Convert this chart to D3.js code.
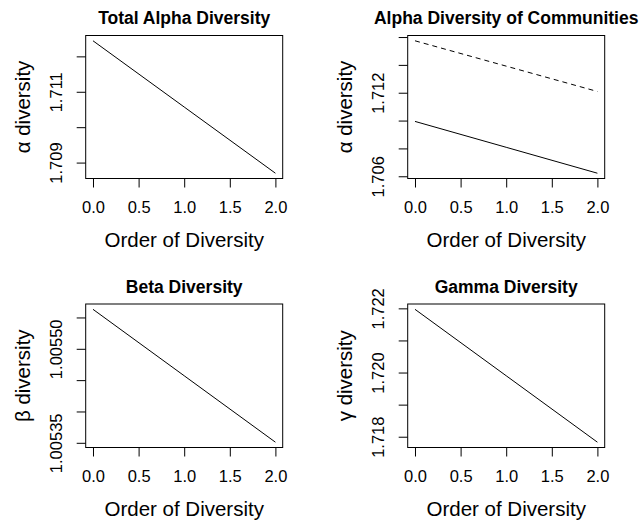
<!DOCTYPE html>
<html>
<head>
<meta charset="utf-8">
<script src="https://cdn.jsdelivr.net/npm/d3@7"></script>
<style>
  body { margin: 0; background: #fff; }
  svg { display: block; font-family: "Liberation Sans", Arial, Helvetica, sans-serif; }
</style>
</head>
<body>
<svg width="640" height="521"></svg>
<script>
// Order of diversity (q)
const orders = [0, 1, 2];

// series values
const totalAlpha = [1.71244, 1.71057, 1.70870];
const communityA = [1.71573, 1.71391, 1.71209]; // dashed
const communityB = [1.70994, 1.70808, 1.70622]; // solid
const betaDiv = [1.005563, 1.005457, 1.005351];
const gammaDiv = [1.72197, 1.71990, 1.71783];

// tick values and which of them get a label
const xTicks = [0, 0.5, 1, 1.5, 2];
const totalAlphaTicks = [1.709, 1.710, 1.711, 1.712];
const totalAlphaLabels = [1.709, 1.711];
const communityTicks = [1.706, 1.708, 1.710, 1.712, 1.714, 1.716];
const communityLabels = [1.706, 1.712];
const betaTicks = [1.00535, 1.00540, 1.00545, 1.00550, 1.00555];
const betaLabels = [1.00535, 1.00550];
const gammaTicks = [1.718, 1.719, 1.720, 1.721, 1.722];
const gammaLabels = [1.718, 1.720, 1.722];

const titles = ["Total Alpha Diversity", "Alpha Diversity of Communities", "Beta Diversity", "Gamma Diversity"];
const yTitles = ["\u03b1 diversity", "\u03b1 diversity", "\u03b2 diversity", "\u03b3 diversity"];
const xTitle = "Order of Diversity";

const svg = d3.select("svg");
const FONT = '"Liberation Sans", Arial, Helvetica, sans-serif';

// plot boxes, like R's par(mfrow = c(2, 2))
const cols = [[85.7, 282.7], [407.7, 604.7]];
const rows = [[35.5, 178.5], [304, 447.5]];

function drawPanel(p) {
  const [left, right] = cols[p.col];
  const [top, bottom] = rows[p.row];
  const g = svg.append("g");

  const x = d3.scaleLinear().domain([-0.08, 2.08]).range([left, right]);

  // R style 4% padding round the data range
  const all = p.series.flatMap(s => s.values);
  const lo = d3.min(all), hi = d3.max(all);
  const pad = (hi - lo) * 0.04;
  const y = d3.scaleLinear().domain([lo - pad, hi + pad]).range([bottom, top]);

  // x axis
  const xg = g.append("g")
    .attr("transform", `translate(0,${bottom})`)
    .call(d3.axisBottom(x).tickValues(xTicks).tickSize(9).tickFormat(d3.format(".1f")));
  xg.attr("font-family", FONT);
  xg.select(".domain").remove();
  xg.selectAll(".tick line").attr("stroke", "#000");
  xg.selectAll(".tick text")
    .attr("y", 34).attr("dy", 0)
    .attr("fill", "#000")
    .style("font-size", "16.5px");

  // y axis, labels turned like R's las = 0
  const fmt = d3.format(p.fmt);
  const yg = g.append("g")
    .attr("transform", `translate(${left},0)`)
    .call(d3.axisLeft(y).tickValues(p.ticks).tickSize(9)
      .tickFormat(d => p.labels.includes(d) ? fmt(d) : ""));
  yg.attr("font-family", FONT);
  yg.select(".domain").remove();
  yg.selectAll(".tick line").attr("stroke", "#000");
  yg.selectAll(".tick text")
    .attr("x", 0).attr("dy", 0)
    .attr("text-anchor", "middle")
    .attr("transform", "translate(-23.5,0) rotate(-90)")
    .attr("fill", "#000")
    .style("font-size", "16.5px");

  // lines
  const line = d3.line().x((d, i) => x(orders[i])).y(d => y(d));
  p.series.forEach(s => {
    g.append("path")
      .attr("d", line(s.values))
      .attr("fill", "none")
      .attr("stroke", "#000")
      .attr("stroke-width", 1)
      .attr("stroke-dasharray", s.dashed ? "5,4" : null);
  });

  // box
  g.append("rect")
    .attr("x", left).attr("y", top)
    .attr("width", right - left).attr("height", bottom - top)
    .attr("fill", "none").attr("stroke", "#000").attr("stroke-width", 1);

  // titles
  g.append("text")
    .attr("x", (left + right) / 2).attr("y", top - 11.5)
    .attr("text-anchor", "middle")
    .style("font-size", "17.5px").style("font-weight", "bold")
    .text(p.title);

  g.append("text")
    .attr("x", (left + right) / 2).attr("y", bottom + 68)
    .attr("text-anchor", "middle")
    .style("font-size", "20.5px")
    .text(xTitle);

  g.append("text")
    .attr("transform", `translate(${left - 55.5},${(top + bottom) / 2}) rotate(-90)`)
    .attr("text-anchor", "middle")
    .style("font-size", "20.5px")
    .text(p.yTitle);
}

drawPanel({ row: 0, col: 0, title: titles[0], yTitle: yTitles[0], fmt: ".3f",
  ticks: totalAlphaTicks, labels: totalAlphaLabels,
  series: [{ values: totalAlpha }] });

drawPanel({ row: 0, col: 1, title: titles[1], yTitle: yTitles[1], fmt: ".3f",
  ticks: communityTicks, labels: communityLabels,
  series: [{ values: communityA, dashed: true }, { values: communityB }] });

drawPanel({ row: 1, col: 0, title: titles[2], yTitle: yTitles[2], fmt: ".5f",
  ticks: betaTicks, labels: betaLabels,
  series: [{ values: betaDiv }] });

drawPanel({ row: 1, col: 1, title: titles[3], yTitle: yTitles[3], fmt: ".3f",
  ticks: gammaTicks, labels: gammaLabels,
  series: [{ values: gammaDiv }] });
</script>
</body>
</html>
